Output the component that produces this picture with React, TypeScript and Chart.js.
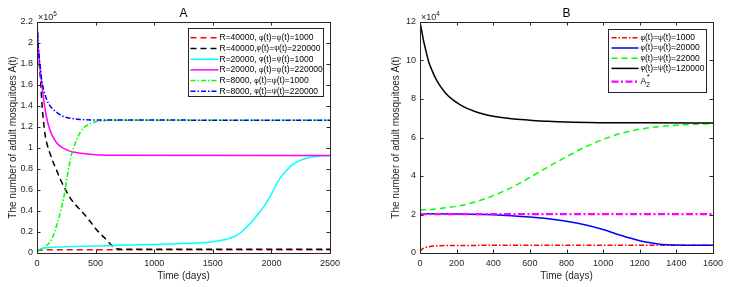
import React, { useEffect, useRef } from "react";
import { Chart, registerables } from "chart.js";

Chart.register(...registerables);

const FONT = '"Liberation Sans", Arial, Helvetica, sans-serif';
const INK = "#262626";

// ---------- Panel A : A(t) in units of 1e5, t in days ----------
const aRedT = [0, 20, 50, 100, 2500];
const aRedY = [0.015, 0.025, 0.03, 0.032, 0.032];

const aBlackT = [0, 10, 20, 30, 45, 55, 70, 90, 110, 140, 170, 200, 240, 280, 320, 370, 440, 510, 580, 640, 680, 720, 2500];
const aBlackY = [2.2, 1.95, 1.8, 1.65, 1.38, 1.26, 1.12, 1.02, 0.95, 0.86, 0.78, 0.7, 0.61, 0.53, 0.47, 0.41, 0.32, 0.22, 0.14, 0.07, 0.04, 0.035, 0.035];

const aCyanT = [0, 50, 100, 200, 400, 600, 800, 1000, 1200, 1400, 1500, 1600, 1650, 1700, 1750, 1800, 1850, 1900, 1950, 2000, 2050, 2100, 2150, 2200, 2250, 2300, 2350, 2400, 2450, 2500];
const aCyanY = [0.025, 0.045, 0.052, 0.058, 0.064, 0.07, 0.076, 0.082, 0.088, 0.097, 0.108, 0.127, 0.142, 0.165, 0.205, 0.26, 0.32, 0.39, 0.465, 0.56, 0.67, 0.75, 0.81, 0.855, 0.885, 0.903, 0.914, 0.921, 0.925, 0.927];

const aMagT = [0, 10, 20, 30, 40, 50, 60, 80, 100, 125, 150, 175, 200, 250, 300, 370, 500, 700, 2500];
const aMagY = [2.2, 1.97, 1.82, 1.71, 1.62, 1.52, 1.44, 1.3, 1.21, 1.13, 1.08, 1.04, 1.015, 0.985, 0.965, 0.95, 0.936, 0.93, 0.928];

const aGreenT = [0, 25, 50, 75, 100, 125, 150, 175, 200, 225, 250, 275, 300, 325, 350, 375, 400, 450, 500, 570, 650, 2500];
const aGreenY = [0.015, 0.03, 0.045, 0.065, 0.09, 0.13, 0.2, 0.29, 0.39, 0.51, 0.67, 0.84, 0.96, 1.04, 1.11, 1.16, 1.195, 1.23, 1.25, 1.26, 1.265, 1.265];

const aBlueT = [0, 10, 20, 30, 40, 60, 80, 100, 140, 180, 225, 300, 370, 500, 2500];
const aBlueY = [2.2, 1.98, 1.85, 1.75, 1.65, 1.54, 1.47, 1.42, 1.365, 1.33, 1.3, 1.28, 1.272, 1.267, 1.265];

const aLabels = [
  "R=40000, φ(t)=ψ(t)=1000",
  "R=40000,φ(t)=ψ(t)=220000",
  "R=20000, φ(t)=ψ(t)=1000",
  "R=20000, φ(t)=ψ(t)=220000",
  "R=8000, φ(t)=ψ(t)=1000",
  "R=8000, φ(t)=ψ(t)=220000",
];

// ---------- Panel B : A(t) in units of 1e4, t in days ----------
const bRedT = [0, 10, 20, 35, 50, 75, 100, 150, 200, 1600];
const bRedY = [0.08, 0.18, 0.25, 0.3, 0.33, 0.36, 0.375, 0.39, 0.395, 0.4];

const bBlueT = [0, 200, 400, 500, 600, 700, 800, 900, 1000, 1100, 1200, 1250, 1300, 1350, 1400, 1500, 1600];
const bBlueY = [2.04, 2.03, 1.99, 1.94, 1.87, 1.78, 1.65, 1.47, 1.22, 0.91, 0.64, 0.54, 0.47, 0.43, 0.41, 0.4, 0.4];

const bGreenT = [0, 100, 200, 300, 400, 500, 600, 700, 800, 900, 1000, 1100, 1200, 1300, 1400, 1500, 1600];
const bGreenY = [2.23, 2.3, 2.43, 2.65, 2.98, 3.4, 3.92, 4.48, 5.0, 5.5, 5.9, 6.22, 6.43, 6.56, 6.64, 6.69, 6.72];

const bBlackT = [0, 10, 20, 30, 47, 65, 84, 110, 140, 180, 220, 260, 300, 340, 400, 500, 600, 700, 800, 1000, 1200, 1600];
const bBlackY = [12.0, 11.5, 11.0, 10.6, 9.95, 9.5, 9.1, 8.68, 8.3, 7.95, 7.7, 7.5, 7.35, 7.23, 7.1, 6.97, 6.9, 6.84, 6.8, 6.77, 6.76, 6.75];

const bMagT = [0, 1600];
const bMagY = [2.02, 2.02];

const bLabels = [
  "φ(t)=ψ(t)=1000",
  "φ(t)=ψ(t)=20000",
  "φ(t)=ψ(t)=22000",
  "φ(t)=ψ(t)=120000",
  "A_2^*",
];

const pts = (t: number[], y: number[]) => t.map((x, i) => ({ x, y: y[i] }));

const DASH = [6, 4];
const DASHDOT = [5, 2, 1.5, 2];

function drawRich(ctx: CanvasRenderingContext2D, text: string, x: number, y: number) {
  if (text === "A_2^*") {
    ctx.font = `8.5px ${FONT}`;
    ctx.fillText("A", x, y);
    const w = ctx.measureText("A").width;
    ctx.font = `7.5px ${FONT}`;
    ctx.fillText("*", x + w + 0.5, y - 5);
    ctx.font = `6.5px ${FONT}`;
    ctx.fillText("2", x + w, y + 3.5);
    return;
  }
  let cx = x;
  for (const part of text.split(/([φψ])/)) {
    if (!part) continue;
    const greek = part === "φ" || part === "ψ";
    ctx.font = `${greek ? 7 : 8.5}px ${FONT}`;
    ctx.fillText(part, cx, y);
    cx += ctx.measureText(part).width;
  }
}

const framePlugin = {
  id: "matlabFrame",
  afterDatasetsDraw(chart: any, _args: any, opts: any) {
    const { ctx, chartArea: a, scales } = chart;
    const xs = scales.x;
    const ys = scales.y;
    ctx.save();
    ctx.strokeStyle = INK;
    ctx.lineWidth = 1;
    ctx.setLineDash([]);
    const tl = 3.5;
    ctx.beginPath();
    xs.ticks.forEach((tk: any) => {
      const px = Math.round(xs.getPixelForValue(tk.value)) + 0.5;
      ctx.moveTo(px, a.bottom);
      ctx.lineTo(px, a.bottom - tl);
      ctx.moveTo(px, a.top);
      ctx.lineTo(px, a.top + tl);
    });
    ys.ticks.forEach((tk: any) => {
      const py = Math.round(ys.getPixelForValue(tk.value)) + 0.5;
      ctx.moveTo(a.left, py);
      ctx.lineTo(a.left + tl, py);
      ctx.moveTo(a.right, py);
      ctx.lineTo(a.right - tl, py);
    });
    ctx.stroke();
    ctx.strokeRect(Math.round(a.left) + 0.5, Math.round(a.top) + 0.5, Math.round(a.right - a.left), Math.round(a.bottom - a.top));

    // panel title
    ctx.fillStyle = "#000";
    ctx.font = `12px ${FONT}`;
    ctx.textAlign = "center";
    ctx.textBaseline = "middle";
    ctx.fillText(opts.title, (a.left + a.right) / 2, 14);

    // exponent
    ctx.fillStyle = INK;
    ctx.textAlign = "left";
    ctx.textBaseline = "alphabetic";
    ctx.font = `9px ${FONT}`;
    ctx.fillText("×10", a.left + 1, 20);
    const w = ctx.measureText("×10").width;
    ctx.font = `6.5px ${FONT}`;
    ctx.fillText(opts.exponent, a.left + 1 + w, 16);

    // legend
    const L = opts.legend;
    const bx = Math.round(a.right - L.inset - L.width) + 0.5;
    const by = Math.round(a.top + L.top) + 0.5;
    ctx.fillStyle = "#fff";
    ctx.fillRect(bx, by, L.width, L.height);
    ctx.strokeStyle = INK;
    ctx.lineWidth = 1;
    ctx.strokeRect(bx, by, L.width, L.height);
    chart.data.datasets.forEach((ds: any, i: number) => {
      const special = ds.label === "A_2^*";
      const cy = by + L.firstRow + i * L.rowGap + (special ? 3 : 0);
      ctx.save();
      ctx.strokeStyle = ds.borderColor;
      ctx.lineWidth = ds.borderWidth;
      ctx.setLineDash(ds.borderDash || []);
      ctx.beginPath();
      ctx.moveTo(bx + L.lineStart, cy);
      ctx.lineTo(bx + L.lineStart + L.lineLen, cy);
      ctx.stroke();
      ctx.restore();
      ctx.fillStyle = "#000";
      ctx.textAlign = "left";
      ctx.textBaseline = "middle";
      drawRich(ctx, ds.label, bx + L.textStart, cy);
    });
    ctx.restore();
  },
};

function makeConfig(p: any) {
  return {
    type: "line",
    data: { datasets: p.datasets },
    plugins: [framePlugin],
    options: {
      responsive: false,
      animation: false,
      devicePixelRatio: 1,
      layout: { padding: { left: 0, right: p.padRight, top: 22, bottom: 0 } },
      elements: { point: { radius: 0 }, line: { tension: 0, cubicInterpolationMode: "monotone" } },
      plugins: {
        legend: { display: false },
        tooltip: { enabled: false },
        matlabFrame: { title: p.title, exponent: p.exponent, legend: p.legend },
      },
      scales: {
        x: {
          type: "linear",
          min: 0,
          max: p.xMax,
          ticks: {
            stepSize: p.xStep,
            padding: 5,
            color: INK,
            font: { family: FONT, size: 9 },
            maxRotation: 0,
            autoSkip: false,
            callback: (v: any) => String(Math.round(Number(v))),
          },
          grid: { display: false, drawTicks: false },
          border: { display: false },
          title: { display: true, text: "Time (days)", color: INK, font: { family: FONT, size: 10 }, padding: { top: 0, bottom: 5 } },
          afterFit: (s: any) => { s.height = 34; },
        },
        y: {
          type: "linear",
          min: 0,
          max: p.yMax,
          ticks: {
            stepSize: p.yStep,
            padding: 4,
            color: INK,
            font: { family: FONT, size: 9 },
            autoSkip: false,
            callback: (v: any) => Number(v).toFixed(p.yDec).replace(/\.0$/, ""),
          },
          grid: { display: false, drawTicks: false },
          border: { display: false },
          title: { display: true, text: "The number of adult mosquitoes A(t)", color: INK, font: { family: FONT, size: 10 }, padding: { top: 7, bottom: 0 } },
          afterFit: (s: any) => { s.width = 37; },
        },
      },
    },
  };
}

function ds(label: string, t: number[], y: number[], color: string, dash: number[], width: number, order: number) {
  return { label, data: pts(t, y), borderColor: color, backgroundColor: color, borderDash: dash, borderWidth: width, fill: false, order };
}

const panelA = {
  title: "A",
  exponent: "5",
  xMax: 2500,
  xStep: 500,
  yMax: 2.2,
  yStep: 0.2,
  yDec: 1,
  padRight: 53,
  legend: { width: 135, height: 68, inset: 7, top: 6, firstRow: 9.3, rowGap: 10.7, lineStart: 2, lineLen: 28, textStart: 31 },
  datasets: [
    ds(aLabels[0], aRedT, aRedY, "#ff0000", DASH, 1.5, 6),
    ds(aLabels[1], aBlackT, aBlackY, "#000000", DASH, 1.5, 5),
    ds(aLabels[2], aCyanT, aCyanY, "#00ffff", [], 1.5, 4),
    ds(aLabels[3], aMagT, aMagY, "#ff00ff", [], 1.5, 3),
    ds(aLabels[4], aGreenT, aGreenY, "#00ff00", DASHDOT, 1.5, 2),
    ds(aLabels[5], aBlueT, aBlueY, "#0000ff", DASHDOT, 1.5, 1),
  ],
};

const panelB = {
  title: "B",
  exponent: "4",
  xMax: 1600,
  xStep: 200,
  yMax: 12,
  yStep: 2,
  yDec: 0,
  padRight: 22,
  legend: { width: 98, height: 63, inset: 7, top: 7, firstRow: 8.3, rowGap: 10.2, lineStart: 3, lineLen: 27, textStart: 32 },
  datasets: [
    ds(bLabels[0], bRedT, bRedY, "#ff0000", DASHDOT, 1.5, 5),
    ds(bLabels[1], bBlueT, bBlueY, "#0000ff", [], 1.5, 4),
    ds(bLabels[2], bGreenT, bGreenY, "#00ff00", DASH, 1.5, 3),
    ds(bLabels[3], bBlackT, bBlackY, "#000000", [], 1.5, 2),
    ds(bLabels[4], bMagT, bMagY, "#ff00ff", [7, 2.5, 2, 2.5], 2.2, 1),
  ],
};

function Panel({ cfg, left, width }: { cfg: any; left: number; width: number }) {
  const ref = useRef<HTMLCanvasElement | null>(null);
  useEffect(() => {
    if (!ref.current) return;
    const chart = new Chart(ref.current, makeConfig(cfg) as any);
    return () => chart.destroy();
  }, [cfg]);
  return (
    <canvas
      ref={ref}
      width={width}
      height={287}
      style={{ position: "absolute", left, top: 0, width, height: 287, display: "block" }}
    />
  );
}

export default function App() {
  return (
    <div style={{ position: "absolute", left: 0, top: 0, width: 735, height: 287, background: "#fff", overflow: "hidden" }}>
      <Panel cfg={panelA} left={0} width={383} />
      <Panel cfg={panelB} left={383} width={352} />
    </div>
  );
}
